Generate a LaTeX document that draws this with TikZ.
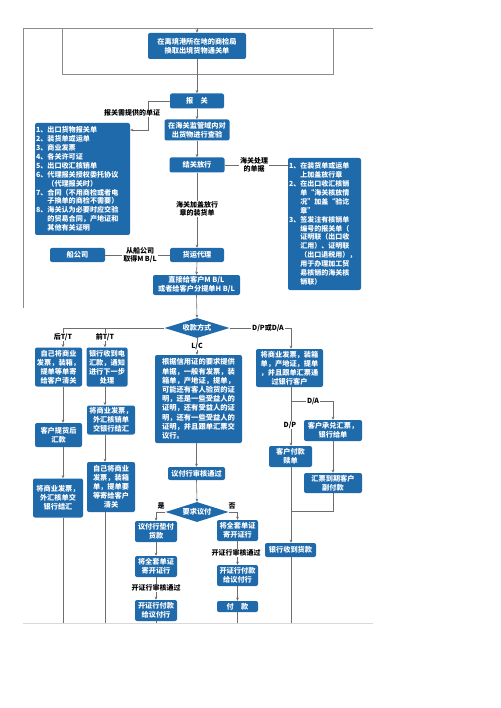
\documentclass[tikz,border=0pt]{standalone}
\usepackage{fontspec}
\newfontfamily\cjk{Noto Sans CJK SC}
\usetikzlibrary{shapes.geometric,arrows.meta}
\definecolor{boxblue}{HTML}{1F6AAB}
\definecolor{lnc}{HTML}{6E6E6E}
\definecolor{frc}{HTML}{8C8C8C}
\begin{document}
\begin{tikzpicture}[x=1pt,y=-1pt,
  box/.style={fill=boxblue, rounded corners=2pt, text=white, font=\cjk\bfseries\fontsize{7.2}{9}\selectfont, align=center, inner sep=1pt},
  dbox/.style={diamond, aspect=3.2, fill=boxblue, text=white, font=\cjk\bfseries\fontsize{7.2}{9}\selectfont, inner sep=0pt},
  lab/.style={font=\cjk\bfseries\fontsize{7}{8.4}\selectfont, fill=white, inner sep=0.8pt, align=center, text=black},
  ln/.style={draw=lnc, line width=0.6pt},
  arr/.style={ln, -{Stealth[length=3.2pt,width=2.8pt]}},
  frame/.style={draw=frc, line width=0.6pt}]
\useasboundingbox (0,0) rectangle (500,708);
% frame lines
\draw[frame] (23,308) -- (23,28) -- (373,28);
\draw[frame] (62,28) -- (62,74) -- (333,74) -- (333,28);
\draw[draw=gray!30, line width=0.6pt] (23,623) -- (373,623);
\coordinate (top) at (197,28);

% nodes
\node[box, minimum width=98, minimum height=26] (n1) at (197,46) {在离境港所在地的商检局\\换取出境货物通关单};
\node[box, minimum width=54, minimum height=15] (bg) at (197,101) {报\quad 关};
\node[box, minimum width=65, minimum height=21] (n2) at (197,130) {在海关监管域内对\\出货物进行查验};
\node[box, minimum width=55, minimum height=15] (n3) at (197,165) {结关放行};
\node[box, align=left, text width=93, minimum height=112, font=\cjk\bfseries\fontsize{7.1}{8.9}\selectfont] (lst) at (82.5,179) {1、出口货物报关单\\
2、装货单或运单\\
3、商业发票\\
4、各关许可证\\
5、出口收汇核销单\\
6、代理报关授权委托协议\\
\phantom{6、}（代理报关时）\\
7、合同（不用商检或者电\\
\phantom{7、}子换单的商检不需要）\\
8、海关认为必要时应交验\\
\phantom{8、}的贸易合同，产地证和\\
\phantom{8、}其他有关证明};
\node[box, align=left, text width=71, minimum height=132, font=\cjk\bfseries\fontsize{7}{8.9}\selectfont] (rb) at (324.5,224) {1、在装货单或运单\\
\phantom{1、}上加盖放行章\\
2、在出口收汇核销\\
\phantom{2、}单“海关核放情\\
\phantom{2、}况”加盖“验讫\\
\phantom{2、}章”\\
3、签发注有核销单\\
\phantom{3、}编号的报关单（\\
\phantom{3、}证明联（出口收\\
\phantom{3、}汇用）、证明联\\
\phantom{3、}（出口退税用），\\
\phantom{3、}用于办理加工贸\\
\phantom{3、}易核销的海关核\\
\phantom{3、}销联）};
\node[box, minimum width=54, minimum height=14] (n4) at (197,255) {货运代理};
\node[box, minimum width=55, minimum height=14] (ship) at (77.5,255) {船公司};
\node[box, minimum width=87, minimum height=20] (n5) at (196.5,285) {直接给客户M B/L\\或者给客户分提单H B/L};
\node[dbox, minimum width=65, minimum height=20] (d1) at (197,328) {收款方式};

\node[box, minimum width=47, minimum height=39] (a1) at (58.5,367) {自己将商业\\发票，装箱，\\提单等单寄\\给客户清关};
\node[box, minimum width=47, minimum height=24] (a2) at (58.5,435) {客户提货后\\汇款};
\node[box, minimum width=50, minimum height=39] (a3) at (58,498) {将商业发票，\\外汇核单交\\银行结汇};
\node[box, minimum width=41, minimum height=39] (b1) at (107,367) {银行收到电\\汇款，通知\\进行下一步\\处理};
\node[box, minimum width=48, minimum height=29] (b2) at (111,420) {将商业发票，\\外汇核销单\\交银行结汇};
\node[box, minimum width=48, minimum height=50] (b3) at (111,487) {自己将商业\\发票，装箱\\单，提单要\\等寄给客户\\清关};
\node[box, align=left, minimum width=87, minimum height=88, font=\cjk\bfseries\fontsize{7.3}{9.2}\selectfont] (c1) at (198.5,399) {根据信用证的要求提供\\单据，一般有发票，装\\箱单，产地证，提单，\\可能还有客人验货的证\\明，还是一些受益人的\\证明，还有受益人的证\\明，还有一些受益人的\\证明，并且跟单汇票交\\议行。};
\node[box, minimum width=57, minimum height=13] (c2) at (196.5,473.5) {议付行审核通过};
\node[dbox, minimum width=63, minimum height=20] (d2) at (197,512) {要求议付};
\node[box, minimum width=42, minimum height=21] (e1) at (156,531.5) {议付行垫付\\货款};
\node[box, minimum width=42, minimum height=21] (e2) at (156,566.5) {将全套单证\\寄开证行};
\node[box, minimum width=42, minimum height=21] (e3) at (156,610.5) {开证行付款\\给议付行};
\node[box, minimum width=41, minimum height=21] (f1) at (237.5,530.5) {将全套单证\\寄开证行};
\node[box, minimum width=41, minimum height=21] (f2) at (237.5,575.5) {开证行付款\\给议付行};
\node[box, minimum width=41, minimum height=11] (f3) at (237.5,606.5) {付\quad 款};
\node[box, minimum width=67, minimum height=38] (g1) at (289.5,368) {将商业发票，装箱\\单，产地证，提单\\，并且跟单汇票通\\过银行客户};
\node[box, minimum width=58, minimum height=21] (h1) at (333,430.5) {客户承兑汇票，\\银行给单};
\node[box, minimum width=58, minimum height=20] (h2) at (333,483) {汇票到期客户\\副付款};
\node[box, minimum width=43, minimum height=21] (k1) at (290.5,456.5) {客户付款\\赎单};
\node[box, minimum width=51, minimum height=14] (k2) at (290.5,550) {银行收到货款};

% connectors upper part
\draw[arr] (top) -- (n1.north);
\draw[arr] (n1.south) -- (bg.north);
\draw[arr] (bg.west) -- (148,101) |- (lst.east |- 0,130);
\node[lab] (l1) at (132,113) {报关需提供的单证};
\draw[arr] (bg.south) -- (n2.north);
\draw[arr] (n2.south) -- (n3.north);
\draw[ln] (n3.east) -- (n3.east -| rb.west);
\node[lab] (l2) at (254,165) {海关处理\\的单据};
\draw[arr] (n3.south) -- (n4.north);
\node[lab] (l3) at (197,209) {海关加盖放行\\章的装货单};
\draw[ln] (ship.east) -- (n4.west);
\node[lab] (l4) at (140,255) {从船公司\\取得M B/L};
\draw[arr] (n4.south) -- (n5.north);
\draw[arr] (n5.south) -- (d1.north);

% T/T branches
\draw[ln] (d1.west) -- (63,328);
\draw[arr] (63,328) -- (a1.north -| 63,0);
\draw[arr] (105,328) -- (b1.north -| 105,0);
\node[lab] (l5) at (63,337) {后T/T};
\node[lab] (l6) at (105,337) {前T/T};
\draw[arr] (a1.south -| 63,0) -- (a2.north -| 63,0);
\draw[arr] (a2.south -| 63,0) -- (a3.north -| 63,0);
\draw[ln] (a3.south -| 63,0) -- (63,623);
\draw[arr] (b1.south -| 105,0) -- (b2.north -| 105,0);
\draw[arr] (b2.south -| 105,0) -- (b3.north -| 105,0);
\draw[ln] (b3.south -| 105,0) -- (105,623);

% L/C branch
\draw[arr] (d1.south) -- (c1.north -| d1.south);
\node[lab] (l7) at (197,346) {L/C};
\draw[arr] (c1.south -| c2.north) -- (c2.north);
\draw[arr] (c2.south) -- (d2.north);
\draw[arr] (d2.west) -- (156,512) -- (e1.north);
\node[lab, fill=none] (l8) at (161,506) {是};
\draw[arr] (e1.south) -- (e2.north);
\draw[arr] (e2.south) -- (e3.north);
\node[lab] (l9) at (156,588) {开证行审核通过};
\draw[ln] (e3.south) -- (156,623);
\draw[arr] (d2.east) -- (237.5,512) -- (f1.north);
\node[lab, fill=none] (l10) at (232,506) {否};
\draw[arr] (f1.south) -- (f2.north);
\node[lab] (l11) at (236,553) {开证行审核通过};
\draw[arr] (f2.south) -- (f3.north);
\draw[ln] (f3.south) -- (237.5,623);

% D/P D/A branch
\draw[arr] (d1.east) -- (291,328) -- (g1.north -| 291,0);
\node[lab] (l12) at (268,328) {D/P或D/A};
\draw[ln] (g1.south -| 291,0) -- (291,401);
\draw[arr] (291,401) -- (333,401) -- (h1.north);
\node[lab] (l13) at (313,401) {D/A};
\draw[arr] (291,401) -- (k1.north -| 291,0);
\node[lab] (l14) at (290,425) {D/P};
\draw[arr] (h1.south) -- (h2.north);
\draw[ln] (h2.south) -- (333,511) -- (291,511);
\draw[arr] (k1.south -| 291,0) -- (k2.north -| 291,0);
\draw[ln] (k2.south -| 291,0) -- (291,623);
\end{tikzpicture}
\end{document}
